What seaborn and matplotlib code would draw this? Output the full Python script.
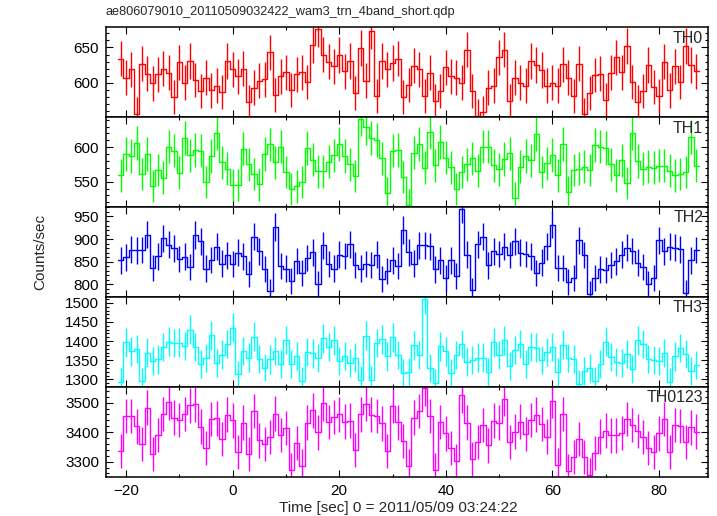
import matplotlib
matplotlib.use('Agg')
import matplotlib.pyplot as plt
from matplotlib.ticker import MultipleLocator
import numpy as np
import pandas as pd
import seaborn as sns

TITLE = 'ae806079010_20110509032422_wam3_trn_4band_short.qdp'

# bin centres in seconds (1 s bins)
time_bins = np.arange(-21, 88)

# count rates per band (t = -21 ... 87)
th0 = [634, 607, 619, 556, 627, 613, 599, 612, 620, 614, 580, 629, 600, 631, 604, 588, 607, 589, 596, 587, 631,
       619, 609, 620, 573, 593, 603, 605, 643, 583, 609,
       615, 590, 612, 615, 601, 654, 676, 640, 630, 623,
       639, 616, 631, 586, 649, 603, 674, 581, 631, 619,
       628, 634, 580, 597, 624, 619, 581, 614, 574, 588,
       622, 609, 607, 600, 647, 588, 553, 558, 593, 596,
       636, 647, 574, 607, 600, 596, 631, 625, 618, 596,
       600, 596, 626, 607, 581, 627, 555, 586, 611, 613,
       576, 614, 636, 615, 652, 601, 573, 588, 625, 594,
       581, 630, 589, 623, 601, 652, 625, 616]

th1 = [559, 590, 587, 606, 561, 590, 544, 567, 556, 601, 595, 563, 613, 588, 596, 595, 550, 587, 621, 578, 569,
       545, 545, 598, 575, 561, 546, 590, 604, 578, 601,
       564, 539, 543, 550, 599, 582, 565, 565, 579, 588,
       605, 587, 575, 558, 641, 629, 613, 611, 584, 533,
       595, 596, 557, 516, 592, 605, 570, 622, 574, 608,
       585, 571, 539, 564, 575, 584, 566, 601, 601, 574,
       568, 583, 591, 527, 572, 587, 581, 619, 564, 577,
       589, 559, 605, 535, 567, 569, 572, 567, 603, 601,
       599, 575, 559, 581, 548, 621, 580, 569, 572, 570,
       573, 573, 566, 559, 561, 564, 615, 573]

th2 = [853, 860, 877, 875, 876, 910, 837, 862, 902, 888, 880, 856, 861, 838, 909, 895, 835, 854, 883, 846, 864,
       845, 870, 862, 823, 905, 873, 834, 785, 927, 840,
       835, 807, 852, 825, 858, 871, 802, 886, 845, 835,
       866, 863, 889, 843, 835, 845, 843, 866, 812, 829,
       853, 840, 920, 871, 846, 886, 886, 884, 833, 853,
       814, 853, 818, 966, 866, 787, 889, 905, 842, 873,
       867, 883, 865, 895, 870, 867, 862, 826, 848, 884,
       932, 836, 837, 805, 815, 897, 865, 779, 815, 833,
       831, 843, 851, 866, 881, 874, 848, 838, 802, 815,
       897, 873, 883, 881, 878, 781, 853, 876]

th3 = [1293, 1397, 1373, 1380, 1295, 1370, 1347, 1352, 1384, 1399, 1395, 1396, 1387, 1430, 1384, 1341, 1356, 1415, 1344, 1365, 1393,
       1435, 1313, 1375, 1357, 1412, 1354, 1331, 1352, 1375, 1339,
       1403, 1339, 1361, 1297, 1371, 1368, 1355, 1407, 1384, 1402,
       1347, 1361, 1342, 1357, 1298, 1414, 1298, 1395, 1405, 1360,
       1410, 1363, 1316, 1319, 1389, 1363, 1510, 1330, 1290, 1386,
       1373, 1316, 1363, 1392, 1345, 1351, 1357, 1357, 1319, 1397,
       1363, 1402, 1335, 1377, 1393, 1341, 1385, 1383, 1350, 1371,
       1384, 1319, 1391, 1356, 1354, 1288, 1323, 1330, 1297, 1340,
       1399, 1358, 1345, 1342, 1366, 1328, 1402, 1393, 1354, 1350,
       1348, 1369, 1293, 1360, 1382, 1367, 1323, 1337]

th0123 = [3336, 3455, 3455, 3420, 3360, 3483, 3325, 3390, 3462, 3502, 3449, 3441, 3462, 3491, 3494, 3419, 3345, 3444, 3447, 3377, 3459,
          3440, 3334, 3432, 3325, 3472, 3372, 3361, 3384, 3463, 3390,
          3415, 3272, 3362, 3285, 3432, 3474, 3399, 3498, 3435, 3451,
          3461, 3436, 3439, 3340, 3461, 3496, 3459, 3455, 3430, 3336,
          3489, 3433, 3369, 3285, 3449, 3472, 3550, 3455, 3272, 3435,
          3396, 3345, 3302, 3525, 3432, 3309, 3366, 3425, 3355, 3439,
          3432, 3514, 3366, 3402, 3436, 3393, 3441, 3459, 3428, 3385,
          3507, 3288, 3462, 3270, 3316, 3376, 3315, 3256, 3329, 3385,
          3405, 3389, 3389, 3398, 3444, 3424, 3403, 3383, 3346, 3334,
          3396, 3444, 3334, 3424, 3421, 3367, 3416, 3402]

bands = ['TH0', 'TH1', 'TH2', 'TH3', 'TH0123']
band_rates = [th0, th1, th2, th3, th0123]
band_colors = ['#ff0000', '#00ff00', '#0000ff', '#00ffff', '#ff00ff']
y_limits = [(551, 678.6), (513, 643.5), (772, 970.5), (1280, 1515), (3248, 3553)]
y_major = [50, 50, 50, 50, 100]
y_minor = [10, 10, 10, 10, 20]

sns.set_theme(style='ticks')
plt.rcParams['font.family'] = ['Liberation Sans', 'DejaVu Sans']

fig, axes = plt.subplots(5, 1, sharex=True, figsize=(7.17, 5.16), dpi=100)
fig.subplots_adjust(left=0.1478, right=0.9874, top=0.9471, bottom=0.0756, hspace=0)

edges = np.append(time_bins - 0.5, time_bins[-1] + 0.5)

for ax, name, rates, color, ylim, major, minor in zip(axes, bands, band_rates, band_colors,
                                                      y_limits, y_major, y_minor):
    rates = np.asarray(rates, dtype=float)

    # histogram-style outline: one level per bin, last level repeated to close the final bin
    df = pd.DataFrame({'Time': edges, 'Rate': np.append(rates, rates[-1])})
    sns.lineplot(data=df, x='Time', y='Rate', ax=ax, color=color, lw=1.0,
                 drawstyle='steps-post', estimator=None)

    # Poisson errors for 1 s bins
    ax.errorbar(time_bins, rates, yerr=np.sqrt(rates), fmt='none', ecolor=color, elinewidth=1.0)

    ax.set_xlim(-23.76, 89.18)
    ax.set_ylim(*ylim)
    ax.yaxis.set_major_locator(MultipleLocator(major))
    ax.yaxis.set_minor_locator(MultipleLocator(minor))
    ax.xaxis.set_major_locator(MultipleLocator(20))
    ax.xaxis.set_minor_locator(MultipleLocator(10))
    ax.tick_params(which='both', direction='in', top=True, right=True, width=0.8, colors='black',
                   labelsize=11, pad=5)
    ax.tick_params(which='major', length=5)
    ax.tick_params(which='minor', length=2.5)
    ax.set_xlabel('')
    ax.set_ylabel('')
    for spine in ax.spines.values():
        spine.set_color('black')
        spine.set_linewidth(1.1)

    ax.text(0.992, 0.88, name, transform=ax.transAxes, ha='right', va='center', fontsize=11.5)

fig.text(106 / 717, 1 - 12 / 516, TITLE, ha='left', va='center', fontsize=9.2)
fig.text(40 / 717, 1 - 252 / 516, 'Counts/sec', rotation=90, ha='center', va='center', fontsize=11)
fig.text(398 / 717, 1 - 508 / 516, 'Time [sec] 0 = 2011/05/09 03:24:22', ha='center', va='center', fontsize=11)

fig.savefig('out.png', dpi=100)
